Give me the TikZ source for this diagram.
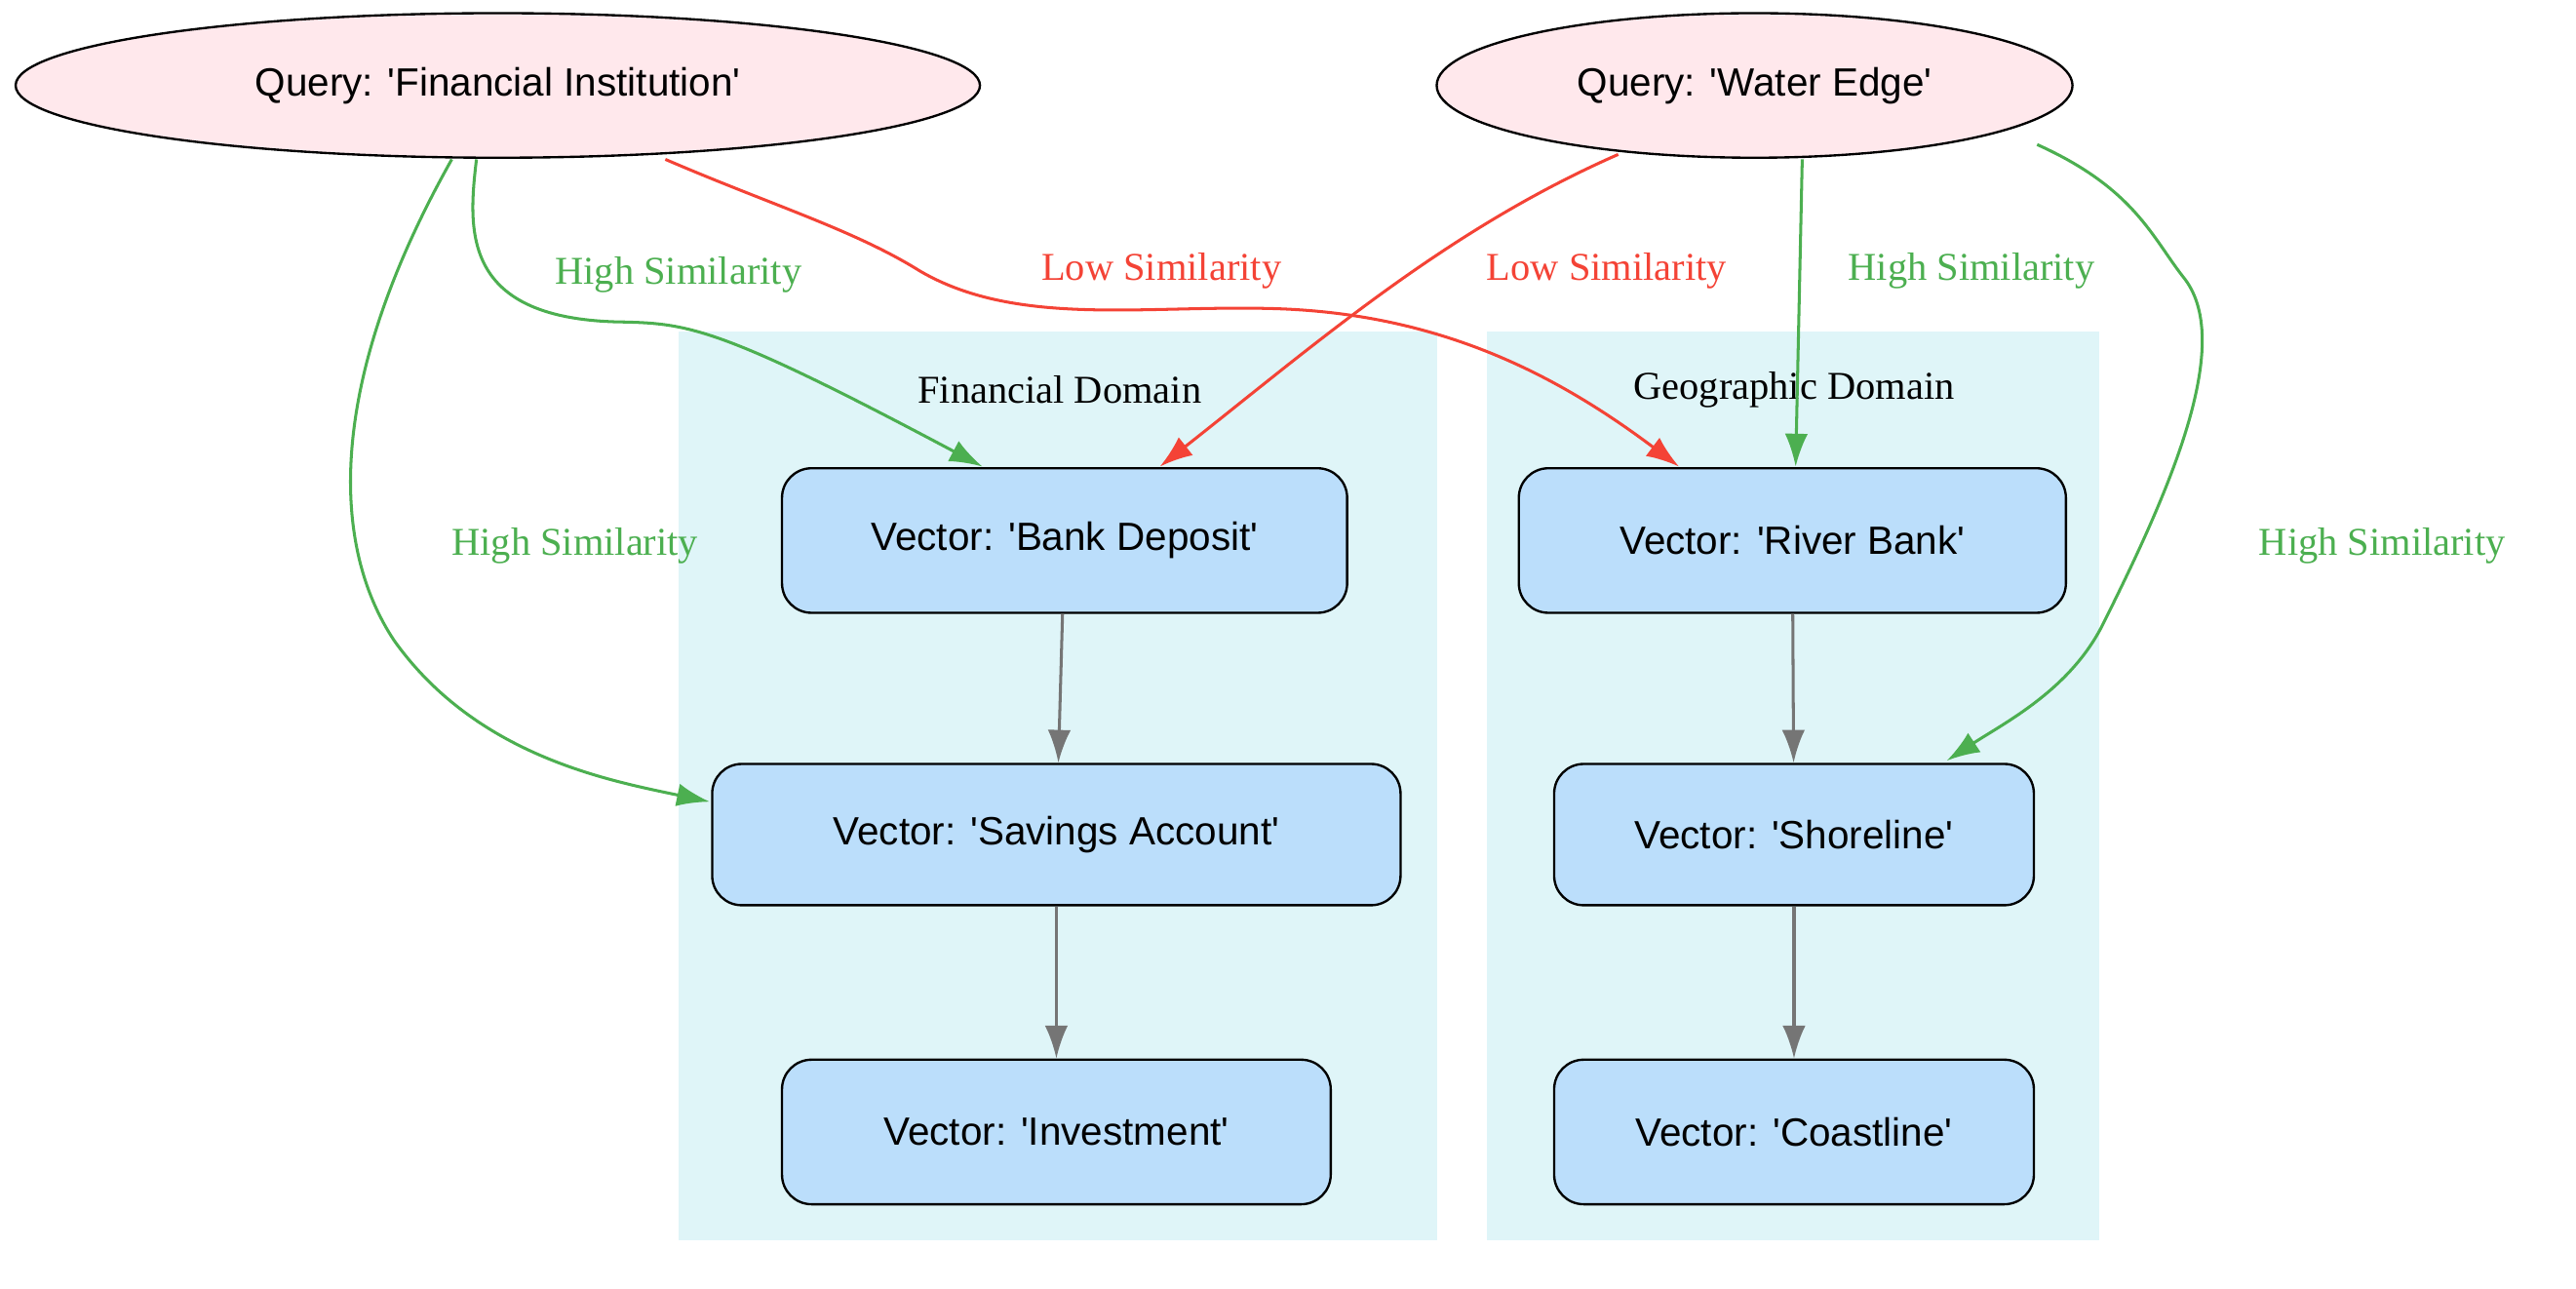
\documentclass[tikz,border=0pt]{standalone}
\usepackage{fontspec}
\setmainfont{Liberation Serif}
\newfontfamily\hv{Liberation Sans}
\usetikzlibrary{shapes.geometric,arrows.meta}
\definecolor{clus}{HTML}{DFF5F8}
\definecolor{vfill}{HTML}{BBDEFB}
\definecolor{qfill}{HTML}{FFE8EC}
\definecolor{hg}{HTML}{4CAF50}
\definecolor{lr}{HTML}{F44336}
\definecolor{gr}{HTML}{757575}
\begin{document}
\begin{tikzpicture}[x=1pt,y=-1pt,
 vec/.style={draw,line width=1.4pt,rounded corners=18pt,fill=vfill,font=\hv\fontsize{24}{28}\selectfont,minimum height=88pt,inner sep=0pt},
 qry/.style={ellipse,draw,line width=1.4pt,fill=qfill,font=\hv\fontsize{24}{28}\selectfont,inner sep=0pt},
 arr/.style={line width=1.8pt,-{Latex[length=20pt,width=14pt]}},
 hi/.style={arr,hg},lo/.style={arr,lr},gg/.style={arr,gr},
 lab/.style={font=\fontsize{24}{28}\selectfont}]
\useasboundingbox (0,0) rectangle (1568,784);
\fill[clus] (413,202) rectangle (875,755);
\fill[clus] (905,202) rectangle (1278,755);
\node[lab] at (645,237) {Financial Domain};
\node[lab] at (1092,237) {Geographic Domain};
\node[qry,minimum width=587pt,minimum height=88pt] (q1) at (303,52) {Query: 'Financial Institution'};
\node[qry,minimum width=387pt,minimum height=88pt] (q2) at (1068,52) {Query: 'Water Edge'};
\node[vec,minimum width=344pt] (bd) at (648,329) {Vector: 'Bank Deposit'};
\node[vec,minimum width=419pt,minimum height=86pt] (sa) at (643,508) {Vector: 'Savings Account'};
\node[vec,minimum width=334pt] (inv) at (643,689) {Vector: 'Investment'};
\node[vec,minimum width=333pt] (rb) at (1091,329) {Vector: 'River Bank'};
\node[vec,minimum width=292pt,minimum height=86pt] (sh) at (1092,508) {Vector: 'Shoreline'};
\node[vec,minimum width=292pt] (co) at (1092,689) {Vector: 'Coastline'};
\coordinate (a1) at (290,97); \coordinate (a2) at (275,97); \coordinate (a3) at (405,97);
\coordinate (b1) at (985,94); \coordinate (b2) at (1097,97); \coordinate (b3) at (1240,88);
\draw[hi] (a1) .. controls (285,140) and (280,195) .. (380,196) .. controls (420,197) and (440,200) .. (598,284);
\draw[hi] (a2) .. controls (200,230) and (200,330) .. (240,390) .. controls (290,460) and (370,475) .. (432,488);
\draw[lo] (a3) .. controls (470,125) and (520,140) .. (560,165) .. controls (620,200) and (700,185) .. (780,188) .. controls (880,192) and (950,230) .. (1022,284);
\draw[lo] (b1) .. controls (880,140) and (800,210) .. (706,284);
\draw[hi] (b2) -- (1093,284);
\draw[hi] (b3) .. controls (1300,115) and (1310,145) .. (1330,170) .. controls (1360,210) and (1320,300) .. (1280,380) .. controls (1260,420) and (1220,440) .. (1185,463);
\draw[gg] (bd) -- (sa);
\draw[gg] (sa) -- (inv);
\draw[gg] (rb) -- (sh);
\draw[gg] (sh) -- (co);
\node[lab,text=hg] at (413,167) {High Similarity};
\node[lab,text=hg] at (350,332) {High Similarity};
\node[lab,text=lr] at (707,165) {Low Similarity};
\node[lab,text=lr] at (978,165) {Low Similarity};
\node[lab,text=hg] at (1200,165) {High Similarity};
\node[lab,text=hg] at (1450,332) {High Similarity};
\end{tikzpicture}
\end{document}
